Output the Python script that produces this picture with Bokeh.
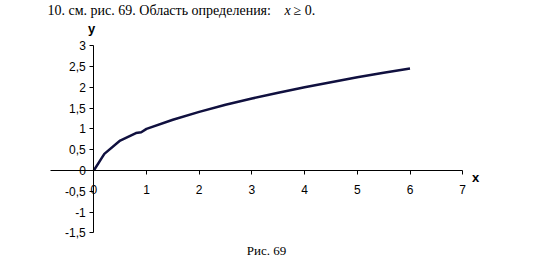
from bokeh.plotting import figure
from bokeh.models import LinearAxis, FixedTicker, CustomJSTickFormatter, Label, Range1d
from bokeh.embed import file_html
from bokeh.resources import INLINE

# data
x_vals = [0, 0.2, 0.5, 0.8, 0.9, 1.0, 1.5, 2.0, 2.5, 3.0, 3.5, 4.0, 4.5, 5.0, 5.5, 6.0]
y_vals = [0, 0.40, 0.72, 0.90, 0.92, 1.0, 1.22, 1.41, 1.58, 1.73, 1.87, 2.0, 2.12, 2.24, 2.35, 2.45]
x_ticks = [0, 1, 2, 3, 4, 5, 6, 7]
y_ticks = [-1.5, -1, -0.5, 0, 0.5, 1, 1.5, 2, 2.5, 3]

W, H = 550, 269
PX_X = 52.7   # pixels per x unit
PX_Y = 41.6   # pixels per y unit
X0, Y0 = 93.3, 170.0  # pixel position of origin

p = figure(width=W, height=H, output_backend="svg", toolbar_location=None,
           x_axis_location=None, y_axis_location=None, min_border=0,
           x_range=Range1d(-X0 / PX_X, (W - X0) / PX_X),
           y_range=Range1d(-(H - Y0) / PX_Y, Y0 / PX_Y))
p.grid.visible = False
p.outline_line_color = None
p.background_fill_color = "white"
p.border_fill_color = "white"

fmt = CustomJSTickFormatter(code="return tick.toString().replace('.', ',');")

xa = LinearAxis(fixed_location=0, ticker=FixedTicker(ticks=x_ticks), formatter=fmt,
                bounds=(-0.82, 7))
xa.major_tick_in = 0
xa.major_tick_out = 4
xa.minor_tick_in = 0
xa.minor_tick_out = 0
xa.major_label_standoff = 10
xa.axis_line_color = "black"
xa.axis_line_width = 1
xa.major_tick_line_color = "black"
xa.major_label_text_font = "Liberation Sans"
xa.major_label_text_font_size = "12px"
xa.major_label_text_color = "black"
p.add_layout(xa, "below")

ya = LinearAxis(fixed_location=0, ticker=FixedTicker(ticks=y_ticks), formatter=fmt,
                bounds=(-1.5, 3))
ya.major_tick_in = 0
ya.major_tick_out = 4
ya.minor_tick_in = 0
ya.minor_tick_out = 0
ya.major_label_standoff = 4
ya.axis_line_color = "black"
ya.axis_line_width = 1
ya.major_tick_line_color = "black"
ya.major_label_text_font = "Liberation Sans"
ya.major_label_text_font_size = "12px"
ya.major_label_text_color = "black"
p.add_layout(ya, "left")

p.line(x_vals, y_vals, line_color="#10103f", line_width=2.5)

def lab(px, py, text, font, size, style="normal", align="left", baseline="middle"):
    # px, py: pixel position in the picture -> data coordinates
    p.add_layout(Label(x=(px - X0) / PX_X, y=(Y0 - py) / PX_Y, text=text,
                       text_font=font, text_font_size=size, text_font_style=style,
                       text_align=align, text_baseline=baseline, text_color="black"))

lab(47, 10, "10. см. рис. 69. Область определения:", "Liberation Serif", "14px")
lab(284, 10, "x", "Liberation Serif", "14px", style="italic")
lab(293, 10, "\u2265 0.", "Liberation Serif", "14px")
lab(91, 28, "y", "Liberation Sans", "13px", style="bold", align="center")
lab(475, 177, "x", "Liberation Sans", "13px", style="bold", align="center")
lab(266, 250, "Рис. 69", "Liberation Serif", "13px", align="center")

open("out.html", "w").write(file_html(p, INLINE))
